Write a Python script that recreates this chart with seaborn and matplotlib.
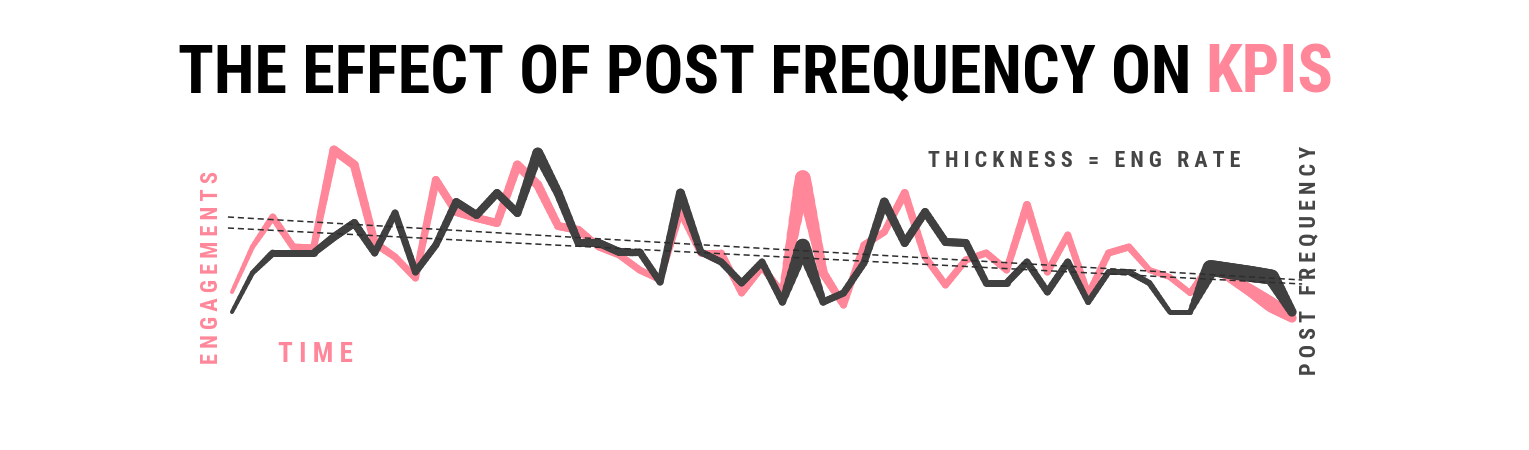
import numpy as np
import pandas as pd
import seaborn as sns
import matplotlib.pyplot as plt
from matplotlib.collections import LineCollection

PINK = "#FF8799"
DARK = "#404040"
LABEL_DARK = "#454545"

# one value per posting period, read left to right
engagements = [3.8, 8.3, 11.3, 8.3, 8.2, 18.0, 16.5, 8.7, 7.3, 5.2, 15.0, 11.8, 11.2, 10.7,
               16.5, 14.5, 10.4, 10.0, 8.3, 7.5, 6.0, 5.0, 11.8, 7.7, 7.7, 3.7, 6.3, 3.7,
               15.2, 5.7, 2.5, 8.5, 9.8, 13.7, 7.3, 4.5, 7.0, 7.7, 6.0, 12.5, 5.8, 9.5,
               3.5, 7.7, 8.3, 6.0, 5.3, 3.7, 6.5, 5.2, 3.9, 2.5, 1.2]
post_frequency = [1.8, 5.7, 7.7, 7.7, 7.7, 9.3, 10.7, 7.7, 11.7, 5.8, 8.5, 12.8, 11.5, 13.7,
                  11.7, 17.7, 13.7, 8.7, 8.7, 7.8, 7.8, 4.8, 13.7, 7.8, 6.8, 4.7, 6.8, 2.8,
                  8.4, 2.8, 3.7, 6.7, 12.8, 8.7, 11.8, 8.8, 8.7, 4.7, 4.7, 6.8, 3.8, 6.8,
                  2.8, 5.8, 5.8, 4.7, 1.8, 1.8, 6.2, 5.9, 5.6, 5.3, 1.8]

# line thickness (px) = engagement rate
eng_thickness = [4, 5, 7, 7, 7, 9, 9, 8, 7, 7, 8, 8, 8, 8, 9, 9, 8, 8, 7, 7, 7, 6, 7, 7, 7, 7,
                 7, 7, 16, 9, 7, 7, 7, 8, 7, 7, 7, 7, 7, 8, 7, 7, 7, 7, 7, 6, 6, 6, 8, 10, 12,
                 15, 9]
freq_thickness = [4, 5, 7, 7, 7, 8, 8, 7, 7, 7, 7, 8, 8, 8, 8, 11, 9, 8, 8, 8, 7, 7, 9, 7, 7, 7,
                  7, 7, 15, 7, 7, 7, 9, 8, 8, 8, 8, 7, 7, 7, 7, 7, 6, 6, 6, 6, 5, 5, 16, 16, 16,
                  15, 9]

trend_x = [-0.2, 52.5]
engagement_trend = [11.3, 5.0]
frequency_trend = [10.2, 4.6]

sns.set_theme(style="white")
plt.rcParams["font.family"] = ["Roboto Condensed", "DejaVu Sans"]
plt.rcParams["font.stretch"] = "condensed"

W, H = 1529, 450
fig = plt.figure(figsize=(W / 100, H / 100), dpi=100)
ax = fig.add_axes([232 / W, 120 / H, 1060 / W, 190 / H])


def thick_line(ax, values, widths, color, z, steps=8):
    # split every segment so the thickness can taper between points
    segs, lws = [], []
    for i in range(len(values) - 1):
        for k in range(steps):
            a, b = k / steps, (k + 1) / steps
            y0 = values[i] + (values[i + 1] - values[i]) * a
            y1 = values[i] + (values[i + 1] - values[i]) * b
            w = widths[i] + (widths[i + 1] - widths[i]) * (a + b) / 2
            segs.append([(i + a, y0), (i + b, y1)])
            lws.append(w * 0.72)
    lc = LineCollection(segs, linewidths=lws, colors=color, capstyle="round",
                        joinstyle="round", zorder=z)
    lc.set_clip_on(False)
    ax.add_collection(lc)


thick_line(ax, engagements, eng_thickness, PINK, 2)
thick_line(ax, post_frequency, freq_thickness, DARK, 3)

trend = pd.DataFrame({
    "x": trend_x + trend_x,
    "y": engagement_trend + frequency_trend,
    "series": ["eng", "eng", "freq", "freq"],
})
sns.lineplot(data=trend, x="x", y="y", units="series", estimator=None, color="#2e2e2e",
             lw=1.1, linestyle=(0, (4, 2.5)), clip_on=False, zorder=5, ax=ax, legend=False)
ax.set_xlim(0, len(engagements) - 1)
ax.set_ylim(0, 19)
ax.axis("off")


def fx(px):
    return px / W


def fy(py):
    return 1 - py / H


t1 = fig.text(0, 0, "THE EFFECT OF POST FREQUENCY ON", fontsize=40, weight="bold",
              color="black", ha="left", va="baseline")
t2 = fig.text(0, 0, "KPIS", fontsize=40, weight="bold", color=PINK, ha="left", va="baseline")

eng_lab = fig.text(fx(212), fy(267), "E N G A G E M E N T S", fontsize=14, weight="bold",
                   color=PINK, rotation=90, ha="center", va="center")
time_lab = fig.text(fx(278), fy(362), "T I M E", fontsize=14, weight="bold", color=PINK,
                    ha="left", va="baseline")
thick_lab = fig.text(fx(928), fy(167), "T H I C K N E S S   =   E N G   R A T E", fontsize=14,
                     weight="bold", color=LABEL_DARK, ha="left", va="baseline")
freq_lab = fig.text(fx(1309), fy(260), "P O S T   F R E Q U E N C Y", fontsize=14,
                    weight="bold", color=LABEL_DARK, rotation=90, ha="center", va="center")

fig.canvas.draw()
r = fig.canvas.get_renderer()


def fit(t, target, along="x"):
    bb = t.get_window_extent(r)
    span = bb.width if along == "x" else bb.height
    t.set_fontsize(t.get_fontsize() * target / span)


# title spans 178..1333 px
w1 = t1.get_window_extent(r).width
w2 = t2.get_window_extent(r).width
gap = 0.24 * 40 * 100 / 72
s = 1155 / (w1 + gap + w2)
fs = 40 * s
t1.set_fontsize(fs)
t2.set_fontsize(fs)
cap = 0.72 * fs * 100 / 72
base = 68.5 + cap / 2
t1.set_position((fx(178), fy(base)))
t2.set_position((fx(178 + (w1 + gap) * s), fy(base)))

fit(eng_lab, 195, "y")
fit(time_lab, 75, "x")
fit(thick_lab, 314, "x")
fit(freq_lab, 230, "y")

fig.savefig("out.png", dpi=100, facecolor="white")
